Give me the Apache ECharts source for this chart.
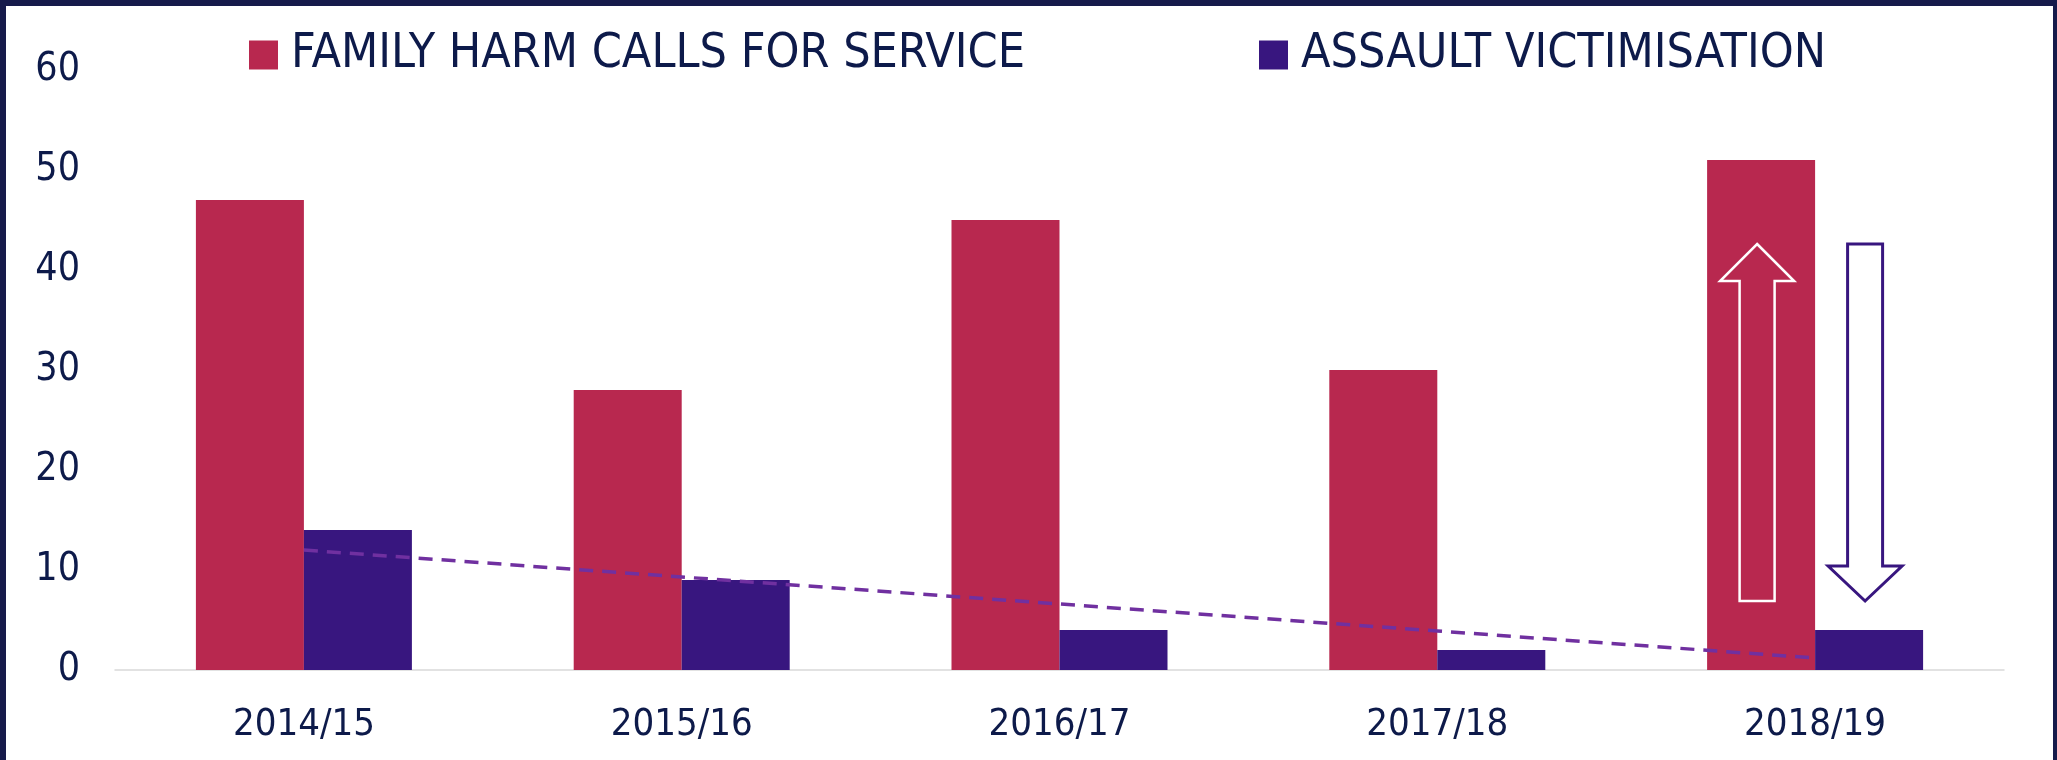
<!DOCTYPE html>
<html>
<head>
<meta charset="utf-8">
<script src="https://cdn.jsdelivr.net/npm/echarts@6/dist/echarts.min.js"></script>
<style>
  html, body { margin: 0; padding: 0; background: #fff; }
  #chart { width: 2057px; height: 760px; }
  #frame {
    position: absolute; left: 0; top: 0; width: 2057px; height: 760px;
    box-sizing: border-box; pointer-events: none;
    border-left: 6px solid #161a4b; border-top: 6px solid #161a4b; border-right: 4px solid #161a4b;
  }
</style>
</head>
<body>
<div id="chart"></div>
<div id="frame"></div>
<script>
// data
var years = ["2014/15", "2015/16", "2016/17", "2017/18", "2018/19"];
var familyHarm = [47, 28, 45, 30, 51];
var assault = [14, 9, 4, 2, 4];
var assaultTrend = [12.0, 9.3, 6.6, 3.9, 1.2];
var yTicks = [0, 10, 20, 30, 40, 50, 60];

var FONT = "'Liberation Sans Narrow', 'DejaVu Sans Condensed', sans-serif";
var TEXT = "#0d1a4a";
var RED = "#b8284f";
var PURPLE = "#38167f";

var chart = echarts.init(document.getElementById("chart"));

chart.setOption({
  backgroundColor: "#fff",
  animation: false,
  grid: { left: 115, right: 53, top: 70, bottom: 90 },
  legend: [
    {
      data: ["FAMILY HARM CALLS FOR SERVICE"],
      left: 244, top: 26,
      itemWidth: 29, itemHeight: 29,
      icon: "rect",
      textStyle: { fontFamily: FONT, fontSize: 48, color: TEXT, padding: [0, 0, 0, 8] }
    },
    {
      data: ["ASSAULT VICTIMISATION"],
      left: 1254, top: 26,
      itemWidth: 29, itemHeight: 29,
      icon: "rect",
      textStyle: { fontFamily: FONT, fontSize: 48, color: TEXT, padding: [0, 0, 0, 8] }
    }
  ],
  xAxis: {
    type: "category",
    data: years,
    axisLine: { lineStyle: { color: "#d9d9d9", width: 1.5 } },
    axisTick: { show: false },
    axisLabel: { fontFamily: FONT, fontSize: 38, color: TEXT, margin: 36 }
  },
  yAxis: {
    type: "value",
    min: yTicks[0],
    max: yTicks[yTicks.length - 1],
    interval: 10,
    splitLine: { show: false },
    axisLine: { show: false },
    axisTick: { show: false },
    axisLabel: { fontFamily: FONT, fontSize: 39, color: TEXT, margin: 35 }
  },
  series: [
    {
      name: "FAMILY HARM CALLS FOR SERVICE",
      type: "bar",
      data: familyHarm,
      barWidth: 108,
      barGap: "0%",
      itemStyle: { color: RED }
    },
    {
      name: "ASSAULT VICTIMISATION",
      type: "bar",
      data: assault,
      barWidth: 108,
      itemStyle: { color: PURPLE }
    },
    {
      name: "trend",
      type: "line",
      data: assaultTrend,
      symbol: "none",
      silent: true,
      z: 5,
      lineStyle: { color: "#7030a0", width: 3.5, type: [14, 9] }
    }
  ]
});

// arrows on the last year: up inside the red bar, down above the purple bar
function arrow(cx, tipY, headY, endY) {
  var hw = 37, sw = 17.5;
  return [
    [cx, tipY], [cx + hw, headY], [cx + sw, headY], [cx + sw, endY],
    [cx - sw, endY], [cx - sw, headY], [cx - hw, headY]
  ];
}
var last = years[years.length - 1];
var centre = chart.convertToPixel({ gridIndex: 0 }, [last, 0]);
var topY = chart.convertToPixel({ gridIndex: 0 }, [last, 42.6])[1];
var botY = chart.convertToPixel({ gridIndex: 0 }, [last, 6.9])[1];
var upX = centre[0] - 54 - 4;
var downX = centre[0] + 54 - 4;

chart.setOption({
  graphic: [
    {
      type: "polygon", z: 10, silent: true,
      shape: { points: arrow(upX, topY, topY + 37, botY) },
      style: { fill: "none", stroke: "#fff", lineWidth: 2.5 }
    },
    {
      type: "polygon", z: 10, silent: true,
      shape: { points: arrow(downX, botY, botY - 35, topY) },
      style: { fill: "#fff", stroke: PURPLE, lineWidth: 3 }
    }
  ]
});
</script>
</body>
</html>
